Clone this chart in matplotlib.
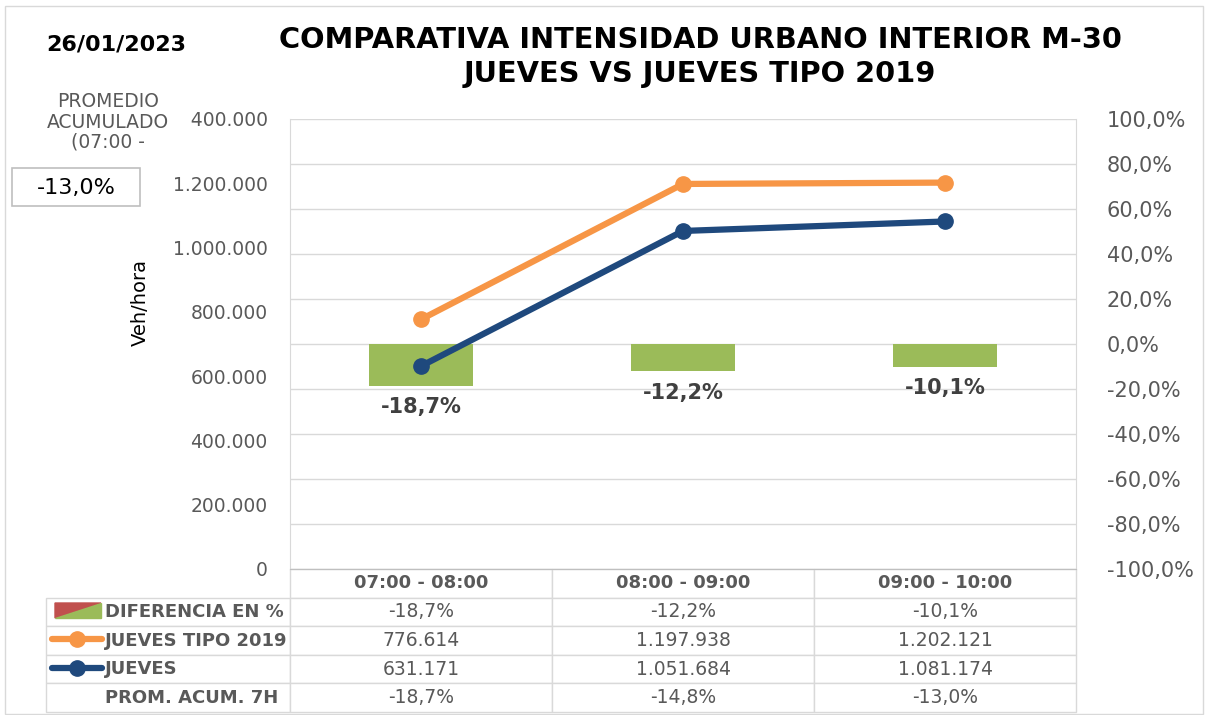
import matplotlib
matplotlib.use("Agg")
import matplotlib.pyplot as plt
from matplotlib.patches import Rectangle, Polygon
from matplotlib.lines import Line2D
from matplotlib.ticker import FuncFormatter, MultipleLocator

# data
franjas = ["07:00 - 08:00", "08:00 - 09:00", "09:00 - 10:00"]
diferencia = [-18.7, -12.2, -10.1]
jueves_tipo_2019 = [776614, 1197938, 1202121]
jueves = [631171, 1051684, 1081174]
prom_acum = [-18.7, -14.8, -13.0]
fecha = "26/01/2023"
promedio_acumulado = -13.0

VERDE = "#9bbb59"
ROJO = "#c0504d"
NARANJA = "#f79646"
AZUL = "#1f497d"
GRIS = "#595959"
OSCURO = "#404040"
REJILLA = "#d9d9d9"
SANS = "DejaVu Sans"
plt.rcParams["font.family"] = SANS

def miles(v, pos=None):
    return f"{int(round(v)):,}".replace(",", ".")

def pct(v, pos=None):
    return f"{v:.1f}%".replace(".", ",")

W, H = 1208, 715
fig = plt.figure(figsize=(W / 100, H / 100), dpi=100)
L, R, T, B = 290, 1076, 119, 569
ax = fig.add_axes([L / W, 1 - B / H, (R - L) / W, (B - T) / H])

x = list(range(len(franjas)))

# bars on percent scale (right axis)
ax.bar(x, diferencia, width=0.4, color=VERDE, zorder=2)
for xi, d in zip(x, diferencia):
    ax.annotate(pct(d), (xi, d), xytext=(0, -8), textcoords="offset points",
                ha="center", va="top", fontsize=15, fontweight="bold",
                color=OSCURO)
ax.set_xlim(-0.5, len(franjas) - 0.5)
ax.set_ylim(-100, 100)
ax.yaxis.set_major_locator(MultipleLocator(20))
ax.yaxis.set_major_formatter(FuncFormatter(pct))
ax.grid(axis="y", color=REJILLA, lw=1, zorder=0)
ax.set_axisbelow(True)
ax.set_xticks([])
for s in ax.spines.values():
    s.set_color(REJILLA)
ax.spines["top"].set_visible(False)
ax.spines["bottom"].set_color("#bfbfbf")

# lines on volume scale (left axis)
ax2 = ax.twinx()
ax2.plot(x, jueves_tipo_2019, color=NARANJA, lw=4.5, marker="o", ms=11,
         solid_capstyle="round", zorder=3)
ax2.plot(x, jueves, color=AZUL, lw=4.5, marker="o", ms=11,
         solid_capstyle="round", zorder=3)
ax2.set_ylim(0, 1400000)
ax2.yaxis.set_major_locator(MultipleLocator(200000))
ax2.yaxis.set_major_formatter(FuncFormatter(miles))
ax2.yaxis.set_ticks_position("left")
ax2.tick_params(axis="y", length=0, pad=16, labelsize=13.5, labelcolor=GRIS)
for s in ax2.spines.values():
    s.set_visible(False)

ax.yaxis.set_ticks_position("right")
ax.tick_params(axis="y", length=0, pad=22, labelsize=15, labelcolor=GRIS)

fig.text(140 / W, 1 - 303 / H, "Veh/hora", rotation=90, ha="center",
         va="center", fontsize=14, color="black")

# data table
filas = ["DIFERENCIA EN %", "JUEVES TIPO 2019", "JUEVES", "PROM. ACUM. 7H"]
celdas = [[""] + franjas,
          [filas[0]] + [pct(v) for v in diferencia],
          [filas[1]] + [miles(v) for v in jueves_tipo_2019],
          [filas[2]] + [miles(v) for v in jueves],
          [filas[3]] + [pct(v) for v in prom_acum]]
tx0 = (46 - L) / (R - L)
tb = (B - 712) / (B - T)
tabla = ax.table(cellText=celdas, cellLoc="center",
                 colWidths=[244, 262, 262, 262],
                 bbox=[tx0, tb, 1 - tx0, -tb])
tabla.auto_set_font_size(False)
tabla.set_fontsize(13.5)
for (r, c), cell in tabla.get_celld().items():
    cell.set_edgecolor(REJILLA)
    cell.set_linewidth(1)
    t = cell.get_text()
    t.set_color(GRIS)
    if r == 0 and c == 0:
        cell.visible_edges = "open"
    if c == 0:
        t.set_ha("left")
        cell._loc = "left"
        cell.PAD = (105 - 46) / 244
        t.set_fontweight("bold")
        t.set_fontsize(13)
    elif r == 0:
        t.set_fontweight("bold")
        t.set_fontsize(13)

# legend keys in table
def fx(px):
    return px / W

def fy(py):
    return 1 - py / H

fig.patches.append(Polygon([(fx(55), fy(603)), (fx(101), fy(603)), (fx(55), fy(618))],
                           closed=True, color=ROJO, transform=fig.transFigure))
fig.patches.append(Polygon([(fx(101), fy(603)), (fx(101), fy(618)), (fx(55), fy(618))],
                           closed=True, color=VERDE, transform=fig.transFigure))
for yy, col in [(639, NARANJA), (668, AZUL)]:
    fig.lines.append(Line2D([fx(52), fx(102)], [fy(yy), fy(yy)], color=col, lw=4.5,
                            solid_capstyle="round", transform=fig.transFigure))
    fig.lines.append(Line2D([fx(77)], [fy(yy)], color=col, marker="o", ms=11,
                            transform=fig.transFigure))

# header texts
fig.text(fx(700), fy(40), "COMPARATIVA INTENSIDAD URBANO INTERIOR M-30",
         ha="center", va="center", fontsize=20.8, fontweight="bold")
fig.text(fx(700), fy(74), "JUEVES VS JUEVES TIPO 2019",
         ha="center", va="center", fontsize=20.8, fontweight="bold")
fig.text(fx(116), fy(45), fecha, ha="center", va="center", fontsize=16,
         fontweight="bold")

# promedio acumulado box (covers start of top tick label as in the original)
fig.patches.append(Rectangle((fx(30), fy(160)), fx(189) - fx(30), fy(88) - fy(160),
                             facecolor="white", edgecolor="none",
                             transform=fig.transFigure, zorder=5))
fig.text(fx(108), fy(122), "PROMEDIO\nACUMULADO\n(07:00 -", ha="center",
         va="center", fontsize=13.5, color=GRIS, linespacing=1.1, zorder=6)
fig.patches.append(Rectangle((fx(12), fy(206)), fx(140) - fx(12), fy(168) - fy(206),
                             facecolor="white", edgecolor="#bfbfbf", lw=1.2,
                             transform=fig.transFigure, zorder=5))
fig.text(fx(76), fy(188), pct(promedio_acumulado), ha="center", va="center",
         fontsize=16, color="black", zorder=6)

# outer frame
fig.patches.append(Rectangle((fx(5), fy(714)), fx(1203) - fx(5), fy(6) - fy(714),
                             facecolor="none", edgecolor=REJILLA, lw=1,
                             transform=fig.transFigure))

fig.savefig("out.png", dpi=100)
